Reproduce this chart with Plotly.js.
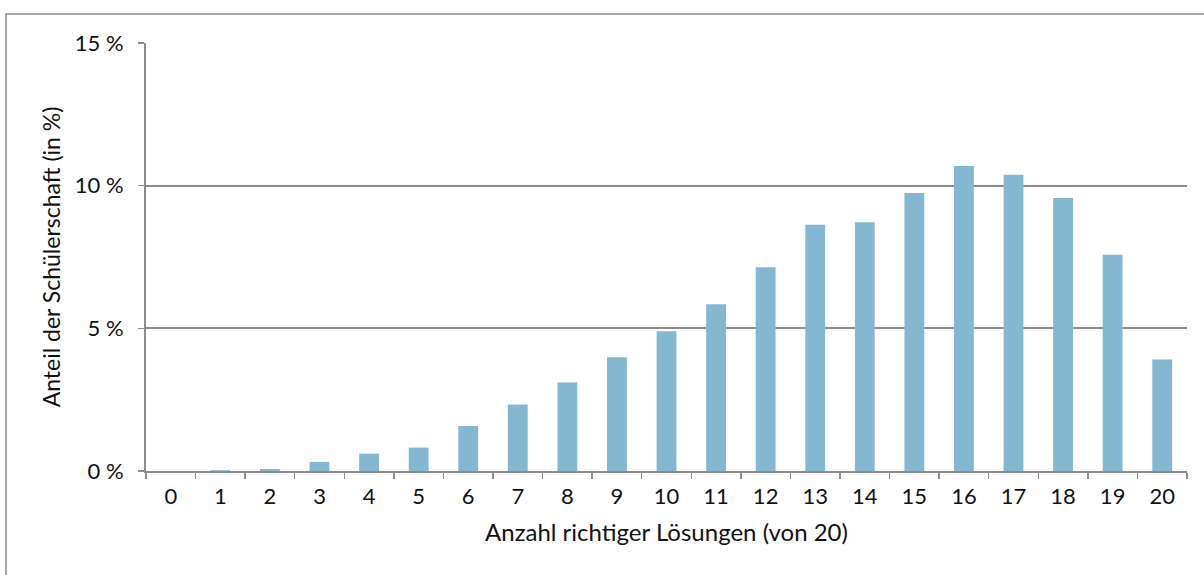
<!DOCTYPE html>
<html>
<head>
<meta charset="utf-8">
<script src="https://cdn.plot.ly/plotly-3.0.1.min.js"></script>
<style>
html,body{margin:0;padding:0;background:#fff;}
#chart{width:1204px;height:575px;}
</style>
</head>
<body>
<div id="chart"></div>
<script>
var categories = ["0","1","2","3","4","5","6","7","8","9","10","11","12","13","14","15","16","17","18","19","20"];
var shares = [0, 0.03, 0.07, 0.32, 0.61, 0.82, 1.58, 2.33, 3.1, 3.99, 4.9, 5.84, 7.14, 8.63, 8.72, 9.74, 10.69, 10.38, 9.57, 7.58, 3.91];
var yTickVals = [0, 5, 10, 15];
var yTickText = ["0 %", "5 %", "10 %", "15 %"];
var xTitle = "Anzahl richtiger Lösungen (von 20)";
var yTitle = "Anteil der Schülerschaft (in %)";

var W = 1204, H = 575;
var m = {l: 146, r: 17, t: 43, b: 104};
var pw = W - m.l - m.r, ph = H - m.t - m.b;
function px2x(px){ return (px - m.l) / pw; }
function py2y(py){ return (H - m.b - py) / ph; }

var font = "Lato, 'Open Sans', 'DejaVu Sans', sans-serif";

var trace = {
  type: "bar",
  x: categories,
  y: shares,
  marker: {color: "#84B8D1", line: {width: 0}},
  hoverinfo: "x+y"
};

var layout = {
  width: W, height: H,
  margin: m,
  paper_bgcolor: "#fff",
  plot_bgcolor: "#fff",
  bargap: 0.6,
  showlegend: false,
  font: {family: font, size: 22, color: "#111"},
  xaxis: {
    type: "category",
    showline: true, linecolor: "#8c8c8c", linewidth: 2,
    ticks: "outside", ticklen: 6, tickcolor: "#8c8c8c", tickwidth: 1.5,
    tickson: "boundaries",
    showgrid: false, zeroline: false,
    ticklabelstandoff: 5,
    tickfont: {family: font, size: 22, color: "#111"},
    title: {text: xTitle, font: {family: font, size: 24, color: "#111"}, standoff: 16},
    fixedrange: true
  },
  yaxis: {
    range: [0, 15],
    tickvals: yTickVals, ticktext: yTickText,
    showline: true, linecolor: "#8c8c8c", linewidth: 2,
    ticks: "outside", ticklen: 6, tickcolor: "#8c8c8c", tickwidth: 1.5,
    showgrid: true, gridcolor: "#8c8c8c", gridwidth: 2,
    zeroline: false,
    ticklabelstandoff: 10,
    tickfont: {family: font, size: 22, color: "#111"},
    title: {text: yTitle, font: {family: font, size: 23, color: "#111"}, standoff: 8},
    fixedrange: true
  },
  shapes: [{
    type: "rect", xref: "paper", yref: "paper",
    x0: px2x(6), x1: px2x(1220), y0: py2y(600), y1: py2y(14),
    line: {color: "#8c8c8c", width: 1.5}, fillcolor: "rgba(0,0,0,0)", layer: "below"
  }]
};

Plotly.newPlot("chart", [trace], layout, {displayModeBar: false, staticPlot: true});
</script>
</body>
</html>
